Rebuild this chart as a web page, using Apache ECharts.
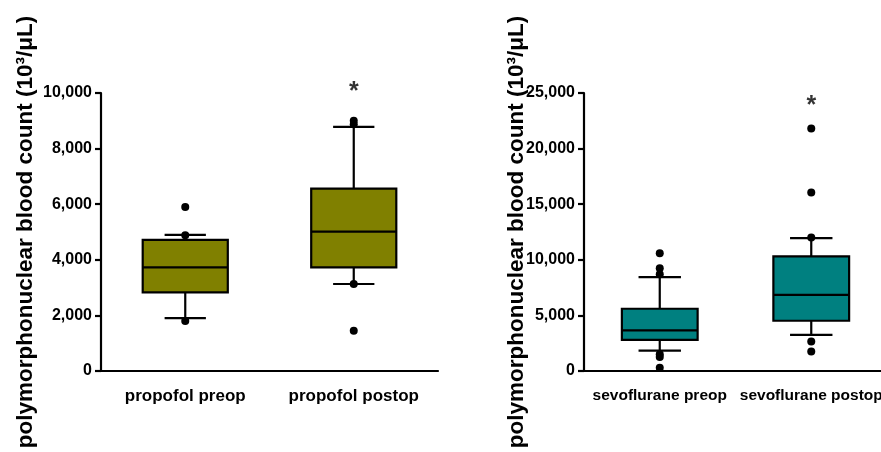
<!DOCTYPE html>
<html><head><meta charset="utf-8">
<script src="https://cdn.jsdelivr.net/npm/echarts@6/dist/echarts.min.js"></script>
<style>html,body{margin:0;padding:0;background:#fff}#c{width:881px;height:452px}</style>
</head><body><div id="c"></div>
<script>
const propofolCategories = ['propofol preop', 'propofol postop'];
const sevoCategories = ['sevoflurane preop', 'sevoflurane postop'];
// [whisker low, Q1, median, Q3, whisker high]
const propofolPreopBox = [1900, 2830, 3730, 4720, 4900];
const propofolPostopBox = [3130, 3730, 5010, 6560, 8780];
const sevoPreopBox = [1830, 2800, 3650, 5600, 8450];
const sevoPostopBox = [3250, 4520, 6850, 10300, 11950];
const propofolPreopPoints = [5900, 4880, 1800];
const propofolPostopPoints = [9000, 8880, 3130, 1450];
const sevoPreopPoints = [10600, 9250, 8700, 1500, 1250, 300];
const sevoPostopPoints = [21800, 16050, 12000, 2650, 1750];
const propofolAxis = {min: 0, max: 10000, interval: 2000};
const sevoAxis = {min: 0, max: 25000, interval: 5000};
const propofolStars = [null, 10050];
const sevoStars = [null, 23800];
const yTitle = 'polymorphonuclear blood count (10³/μL)';

const FONT = 'Liberation Sans, Arial, sans-serif';

function boxRender(fill, boxFrac, capFrac) {
  return function (params, api) {
    const x = api.value(0);
    const lo = api.coord([x, api.value(1)]);
    const q1 = api.coord([x, api.value(2)]);
    const md = api.coord([x, api.value(3)]);
    const q3 = api.coord([x, api.value(4)]);
    const hi = api.coord([x, api.value(5)]);
    const band = api.size([1, 0])[0];
    const bw = band * boxFrac, cw = band * capFrac;
    const cx = lo[0];
    const ls = {stroke: '#000', lineWidth: 2.2};
    return {type: 'group', children: [
      {type: 'line', shape: {x1: cx, y1: hi[1], x2: cx, y2: q3[1]}, style: ls},
      {type: 'line', shape: {x1: cx, y1: q1[1], x2: cx, y2: lo[1]}, style: ls},
      {type: 'line', shape: {x1: cx - cw / 2, y1: hi[1], x2: cx + cw / 2, y2: hi[1]}, style: ls},
      {type: 'line', shape: {x1: cx - cw / 2, y1: lo[1], x2: cx + cw / 2, y2: lo[1]}, style: ls},
      {type: 'rect', shape: {x: cx - bw / 2, y: q3[1], width: bw, height: q1[1] - q3[1]}, style: {fill: fill, stroke: '#000', lineWidth: 2.2}},
      {type: 'line', shape: {x1: cx - bw / 2, y1: md[1], x2: cx + bw / 2, y2: md[1]}, style: ls}
    ]};
  };
}

function pts(arrs) {
  const out = [];
  arrs.forEach((a, i) => a.forEach(v => out.push([i, v])));
  return out;
}
function starData(arr) {
  const out = [];
  arr.forEach((v, i) => { if (v != null) out.push([i, v]); });
  return out;
}

function xAxisOf(idx, cats, fs) {
  return {
    type: 'category', gridIndex: idx, data: cats, boundaryGap: true,
    axisLine: {lineStyle: {color: '#000', width: 2.2}},
    axisTick: {alignWithLabel: true, length: 8, lineStyle: {color: '#000', width: 2.2}},
    axisLabel: {color: '#000', fontFamily: FONT, fontWeight: 'bold', fontSize: fs, margin: 17, interval: 0, hideOverlap: false},
    splitLine: {show: false}
  };
}
function yAxisOf(idx, ax, gap) {
  return {
    type: 'value', gridIndex: idx, min: ax.min, max: ax.max, interval: ax.interval,
    axisLine: {show: true, lineStyle: {color: '#000', width: 2.2}},
    axisTick: {show: true, length: 6, lineStyle: {color: '#000', width: 2.2}},
    axisLabel: {color: '#000', fontFamily: FONT, fontWeight: 'bold', fontSize: 16, margin: 9,
      formatter: v => v.toLocaleString('en-US')},
    splitLine: {show: false},
    name: yTitle, nameLocation: 'middle', nameGap: gap, nameRotate: 90, nameMoveOverlap: false,
    nameTextStyle: {color: '#000', fontFamily: FONT, fontWeight: 'bold', fontSize: 22.5}
  };
}

const chart = echarts.init(document.getElementById('c'));
chart.setOption({
  animation: false,
  backgroundColor: '#fff',
  grid: [
    {left: 101, top: 93, width: 337, height: 278, outerBoundsMode: 'none', containLabel: false},
    {left: 584, top: 93, width: 303, height: 278, outerBoundsMode: 'none', containLabel: false}
  ],
  xAxis: [xAxisOf(0, propofolCategories, 17), xAxisOf(1, sevoCategories, 15.5)],
  yAxis: [yAxisOf(0, propofolAxis, 64), yAxisOf(1, sevoAxis, 56)],
  series: [
    {type: 'custom', xAxisIndex: 0, yAxisIndex: 0, renderItem: boxRender('#808000', 0.505, 0.245),
      encode: {x: 0, y: [1, 2, 3, 4, 5]}, clip: false,
      data: [[0].concat(propofolPreopBox), [1].concat(propofolPostopBox)]},
    {type: 'custom', xAxisIndex: 1, yAxisIndex: 1, renderItem: boxRender('#008080', 0.5, 0.28),
      encode: {x: 0, y: [1, 2, 3, 4, 5]}, clip: false,
      data: [[0].concat(sevoPreopBox), [1].concat(sevoPostopBox)]},
    {type: 'scatter', xAxisIndex: 0, yAxisIndex: 0, symbolSize: 8, itemStyle: {color: '#000', opacity: 1}, z: 5, clip: false,
      data: pts([propofolPreopPoints, propofolPostopPoints])},
    {type: 'scatter', xAxisIndex: 1, yAxisIndex: 1, symbolSize: 8, itemStyle: {color: '#000', opacity: 1}, z: 5, clip: false,
      data: pts([sevoPreopPoints, sevoPostopPoints])},
    {type: 'scatter', xAxisIndex: 0, yAxisIndex: 0, symbolSize: 1, itemStyle: {color: 'rgba(0,0,0,0)'}, clip: false,
      label: {show: true, position: 'inside', formatter: '*', color: '#000', fontFamily: FONT, fontWeight: 'bold', fontSize: 25},
      data: starData(propofolStars)},
    {type: 'scatter', xAxisIndex: 1, yAxisIndex: 1, symbolSize: 1, itemStyle: {color: 'rgba(0,0,0,0)'}, clip: false,
      label: {show: true, position: 'inside', formatter: '*', color: '#000', fontFamily: FONT, fontWeight: 'bold', fontSize: 25},
      data: starData(sevoStars)}
  ]
});
</script></body></html>
